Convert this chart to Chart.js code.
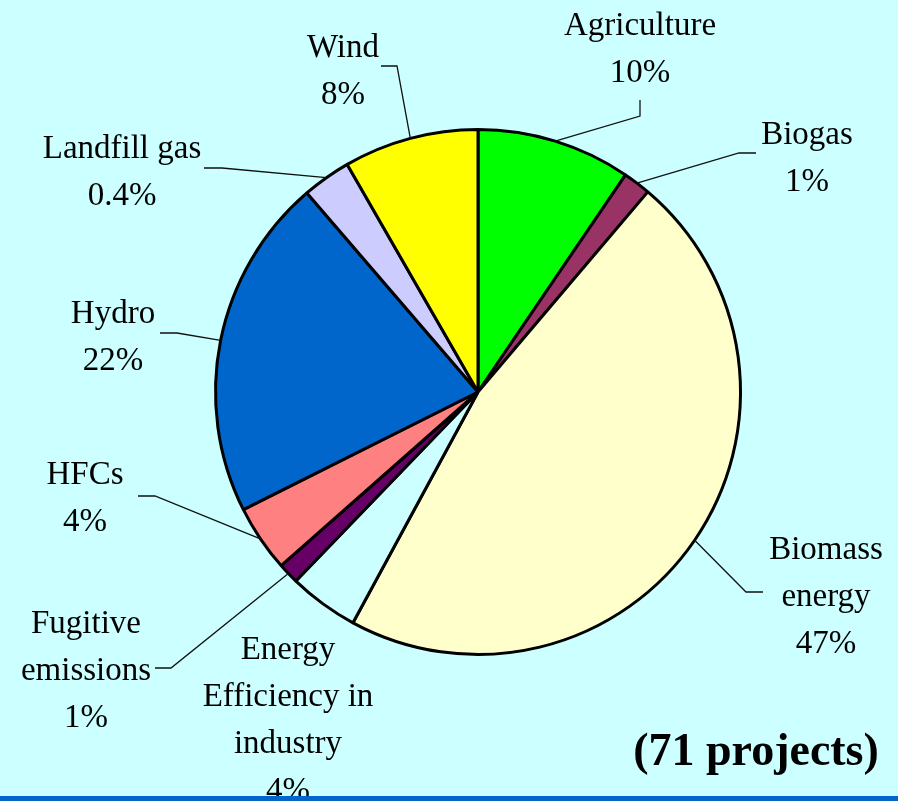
<!DOCTYPE html>
<html>
<head>
<meta charset="utf-8">
<script src="https://cdn.jsdelivr.net/npm/chart.js@4/dist/chart.umd.min.js"></script>
<style>
  html, body { margin: 0; padding: 0; background: #CCFFFF; }
  #wrap { position: relative; width: 898px; height: 801px; overflow: hidden; }
</style>
</head>
<body>
<div id="wrap"><canvas id="pieChart" width="898" height="801"></canvas></div>
<script>
// categories in clockwise order from 12 o'clock
var sectors = ['Agriculture', 'Biogas', 'Biomass energy', 'Energy Efficiency in industry',
               'Fugitive emissions', 'HFCs', 'Hydro', 'Landfill gas', 'Wind'];
// slice sizes (percent of the circle)
var shares = [9.5, 1.7, 46.7, 4.3, 1.3, 4.1, 21.1, 3.0, 8.3];
// percentages as printed on the labels
var shareLabels = ['10%', '1%', '47%', '4%', '1%', '4%', '22%', '0.4%', '8%'];
var sliceColors = ['#00FF00', '#993366', '#FFFFCC', '#CCFFFF', '#660066',
                   '#FF8080', '#0066CC', '#CCCCFF', '#FFFF00'];

// label placement: text lines, centre x, first baseline
var labelLines = [
    ['Agriculture'], ['Biogas'], ['Biomass', 'energy'], ['Energy', 'Efficiency in', 'industry'],
    ['Fugitive', 'emissions'], ['HFCs'], ['Hydro'], ['Landfill gas'], ['Wind']
];
var labelPos = [[640, 35], [807, 144], [826, 559], [288, 659],
                [86, 633], [85, 484], [113, 323], [122, 158], [343, 57]];
// leader lines: elbow point then end point (null = no leader)
var leaders = [
    [[640, 116], [640, 100]],
    [[739, 153], [756, 153]],
    [[746, 592], [763, 592]],
    null,
    [[171, 668], [155, 668]],
    [[155, 496], [138, 496]],
    [[177, 333], [160, 333]],
    [[222, 168], [204, 168]],
    [[397, 66], [381, 66]]
];

var labelPlugin = {
    id: 'pieLabels',
    afterDraw: function(chart) {
        var ctx = chart.ctx;
        var arcs = chart.getDatasetMeta(0).data;
        ctx.save();
        // leader lines
        ctx.strokeStyle = '#111111';
        ctx.lineWidth = 1.3;
        arcs.forEach(function(arc, i) {
            if (!leaders[i]) return;
            var p = arc.getProps(['x', 'y', 'startAngle', 'endAngle', 'outerRadius'], true);
            var mid = (p.startAngle + p.endAngle) / 2;
            var sx = p.x + Math.cos(mid) * p.outerRadius;
            var sy = p.y + Math.sin(mid) * p.outerRadius;
            ctx.beginPath();
            ctx.moveTo(sx, sy);
            ctx.lineTo(leaders[i][0][0], leaders[i][0][1]);
            ctx.lineTo(leaders[i][1][0], leaders[i][1][1]);
            ctx.stroke();
        });
        // label texts
        ctx.fillStyle = '#000000';
        ctx.font = '33px "Liberation Serif", "Times New Roman", serif';
        ctx.textAlign = 'center';
        ctx.textBaseline = 'alphabetic';
        labelLines.forEach(function(lines, i) {
            var all = lines.concat([shareLabels[i]]);
            all.forEach(function(t, k) {
                ctx.fillText(t, labelPos[i][0], labelPos[i][1] + k * 47);
            });
        });
        // footnote
        ctx.font = 'bold 46px "Liberation Serif", "Times New Roman", serif';
        ctx.fillText('(71 projects)', 756, 765);
        // bottom rule
        ctx.fillStyle = '#0066CC';
        ctx.fillRect(0, 796, 898, 5);
        ctx.restore();
    }
};

var ctx = document.getElementById('pieChart').getContext('2d');
var pieChart = new Chart(ctx, {
    type: 'pie',
    data: {
        labels: sectors,
        datasets: [{
            data: shares,
            backgroundColor: sliceColors,
            borderColor: '#000000',
            borderWidth: 3
        }]
    },
    options: {
        responsive: false,
        animation: false,
        layout: { padding: { left: 214, top: 128, right: 156, bottom: 145 } },
        plugins: {
            legend: { display: false },
            tooltip: { enabled: false }
        }
    },
    plugins: [labelPlugin]
});
</script>
</body>
</html>
